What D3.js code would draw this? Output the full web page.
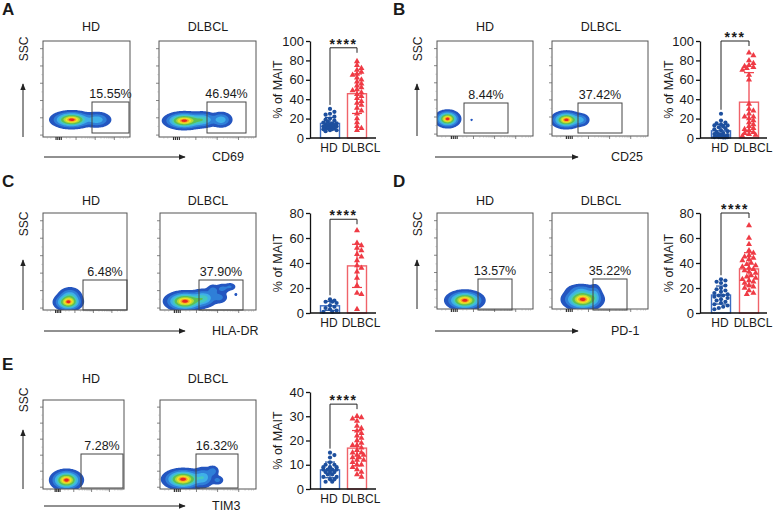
<!DOCTYPE html>
<html>
<head>
<meta charset="utf-8">
<script src="https://cdn.jsdelivr.net/npm/d3@7"></script>
<style>
  body { margin: 0; background: #fff; }
  text { font-family: "Liberation Sans", Arial, sans-serif; fill: #1a1a1a; }
</style>
</head>
<body>
<div id="viz"></div>
<script>
const w = 776;
const h = 513;

const groups = ['HD', 'DLBCL'];
const letters = ['A', 'B', 'C', 'D', 'E'];
const markers = ['CD69', 'CD25', 'HLA-DR', 'PD-1', 'TIM3'];
const gateLabels = [['15.55%', '46.94%'], ['8.44%', '37.42%'], ['6.48%', '37.90%'], ['13.57%', '35.22%'], ['7.28%', '16.32%']];
const stars = ['****', '***', '****', '****', '****'];
const yMax = [100, 100, 80, 80, 40];
const yStep = [20, 20, 20, 20, 10];
const bracketAt = [93, 100, 75, 80, 35];

// % of MAIT, one value per donor
const hdCD69 = [30, 27, 25, 24, 22, 20, 19, 18, 17, 16, 15, 15, 14, 14, 13, 13, 12, 12, 12, 11, 11, 10, 10, 9, 9, 8, 8, 7];
const dlbclCD69 = [79, 75, 72, 70, 68, 66, 65, 62, 60, 58, 56, 54, 52, 50, 49, 47, 45, 43, 41, 38, 36, 34, 31, 28, 25, 20, 16, 12, 10, 8];
const hdCD25 = [25, 18, 16, 15, 14, 13, 13, 12, 11, 10, 9, 8, 7, 6, 5, 4, 4, 3, 3, 2, 2, 2, 1, 1, 1, 1, 0.5, 0.5];
const dlbclCD25 = [88, 85, 80, 77, 75, 74, 73, 72, 70, 65, 60, 35, 30, 28, 25, 22, 22, 20, 18, 16, 14, 12, 10, 9, 8, 6, 5, 4, 3, 2];
const hdHLADR = [11, 10, 9, 9, 8, 6, 5, 4, 3, 2, 1, 1];
const dlbclHLADR = [66, 56, 54, 52, 50, 47, 45, 42, 38, 36, 33, 28, 22, 16, 15, 3];
const hdPD1 = [27, 26, 25, 24, 22, 20, 19, 18, 17, 16, 15, 14, 14, 13, 12, 11, 10, 9, 8, 7, 6, 5, 4, 3];
const dlbclPD1 = [70, 60, 55, 50, 48, 46, 45, 44, 43, 42, 40, 39, 38, 37, 36, 35, 34, 33, 32, 30, 29, 28, 27, 26, 25, 24, 22, 21, 20, 18, 16, 15];
const hdTIM3 = [15, 14, 13, 11, 10, 10, 9, 9, 9, 8, 8, 8, 8, 7, 7, 7, 6, 6, 5, 5, 4, 4, 3, 3];
const dlbclTIM3 = [30, 29.5, 29, 28, 26, 25, 24, 23, 22, 21, 20, 19, 18, 18, 17, 16, 15, 15, 14, 14, 13, 13, 12, 12, 11, 10, 10, 9, 8, 7, 6, 5];

const values = [[hdCD69, dlbclCD69], [hdCD25, dlbclCD25], [hdHLADR, dlbclHLADR], [hdPD1, dlbclPD1], [hdTIM3, dlbclTIM3]];

// ---- layout (pixels) ----
const cols = [
  { letterX: 2, titleX: [91, 208], yArrowX: 23, sscX: 24, xArrow: [44, 185], markerX: 212, barX: [310, 376], barCx: [330, 357], labelDx: [-1, 4], yTitleX: 278 },
  { letterX: 393, titleX: [485, 601], yArrowX: 417, sscX: 418, xArrow: [435, 578], markerX: 611, barX: [700, 767], barCx: [721, 749], labelDx: [-1, 4], yTitleX: 669 }
];
const rows = [
  { letterY: 15, titleY: 31, arrowTip: 84, sscY: 49, xArrowY: 157, barY: [41, 138] },
  { letterY: 187, titleY: 205, arrowTip: 260, sscY: 224, xArrowY: 331, barY: [213, 313] },
  { letterY: 370, titleY: 383, arrowTip: 430, sscY: 400, xArrowY: 506, barY: [392, 489] }
];
const boxes = [
  [[43, 41, 130, 137], [159, 41, 256, 137]],
  [[437, 41, 533, 136], [552, 41, 648, 136]],
  [[43, 213, 127, 310], [160, 213, 256, 310]],
  [[437, 213, 533, 309], [552, 213, 648, 309]],
  [[43, 400, 124, 489], [160, 400, 256, 489]]
];
const gates = [
  [[92, 102, 129, 133], [207, 102, 246, 133]],
  [[464, 103, 508, 133], [578, 103, 622, 133]],
  [[83, 280, 127, 310], [199, 280, 243, 310]],
  [[478, 279, 512, 310], [593, 279, 627, 310]],
  [[81, 454, 123, 488], [196, 454, 238, 488]]
];
// density shape of each flow plot: [u, v, sdU, sdV, weight] in box fractions
const blobs = [
  [[[0.33, 0.18, 0.09, 0.035, 1], [0.62, 0.18, 0.07, 0.035, 0.25]],
   [[0.26, 0.17, 0.08, 0.035, 1], [0.45, 0.18, 0.06, 0.035, 0.35], [0.64, 0.18, 0.05, 0.035, 0.25]]],
  [[[0.11, 0.18, 0.05, 0.035, 1], [0.36, 0.17, 0.008, 0.008, 0.05]],
   [[0.15, 0.17, 0.06, 0.035, 1], [0.3, 0.17, 0.04, 0.03, 0.2]]],
  [[[0.30, 0.08, 0.065, 0.035, 1], [0.32, 0.14, 0.06, 0.04, 0.3]],
   [[0.26, 0.09, 0.08, 0.04, 1], [0.45, 0.12, 0.06, 0.04, 0.35], [0.55, 0.2, 0.03, 0.03, 0.12], [0.65, 0.22, 0.035, 0.025, 0.1],
    [0.73, 0.24, 0.03, 0.02, 0.08], [0.79, 0.16, 0.01, 0.01, 0.05], [0.62, 0.13, 0.04, 0.03, 0.1]]],
  [[[0.29, 0.09, 0.075, 0.04, 1]],
   [[0.32, 0.1, 0.08, 0.045, 1], [0.3, 0.2, 0.07, 0.03, 0.12], [0.45, 0.15, 0.03, 0.05, 0.15]]],
  [[[0.29, 0.1, 0.075, 0.045, 1]],
   [[0.24, 0.11, 0.08, 0.045, 1], [0.45, 0.13, 0.05, 0.05, 0.25], [0.55, 0.2, 0.03, 0.03, 0.12], [0.6, 0.1, 0.03, 0.025, 0.1]]]
];
const levels = [0.015, 0.07, 0.16, 0.27, 0.4, 0.58, 0.72, 0.84, 0.93];
const levelColors = ['#2456c0', '#2f7fd8', '#3fb0e8', '#45c8c0', '#5cc055', '#b5d935', '#f2e424', '#f5a021', '#e5261f'];

const pointColor = ['#1d4f9e', '#ef3b45'];
const barColor = ['#3b6cc0', '#f0636a'];
const barW = 19;

const svg = d3.select('#viz').append('svg')
  .attr('width', w)
  .attr('height', h);

const defs = svg.append('defs');
defs.append('marker')
  .attr('id', 'arrow')
  .attr('viewBox', '0 0 10 10')
  .attr('refX', 9).attr('refY', 5)
  .attr('markerWidth', 7).attr('markerHeight', 7)
  .attr('orient', 'auto')
  .append('path')
  .attr('d', 'M0,1L10,5L0,9Z')
  .attr('fill', '#222');

// simple beeswarm so dots don't sit on top of each other
function swarm(vals, y, r, maxOff) {
  const placed = [];
  const pts = vals.map(v => ({ v, y: y(v) })).sort((a, b) => b.v - a.v);
  const step = r * 1.05;
  pts.forEach(p => {
    let best = 0, bestD = -1;
    for (let k = 0; k * step <= maxOff; k++) {
      for (const s of (k ? [1, -1] : [1])) {
        const dx = s * k * step;
        let dmin = Infinity;
        placed.forEach(q => { dmin = Math.min(dmin, Math.hypot(q.dx - dx, q.y - p.y)); });
        if (dmin >= 2 * r * 0.9) { if (bestD < Infinity) { best = dx; bestD = Infinity; } }
        else if (bestD < Infinity && dmin > bestD) { best = dx; bestD = dmin; }
      }
      if (bestD === Infinity) break;
    }
    p.dx = best;
    placed.push(p);
  });
  return pts;
}

function flowPlot(g, box, gate, blob, label, id) {
  const [x0, y0, x1, y1] = box;
  const n = Math.round(x1 - x0), m = Math.round(y1 - y0);
  const grid = new Array(n * m);
  for (let j = 0; j < m; j++) {
    for (let i = 0; i < n; i++) {
      const u = (i + 0.5) / n, v = 1 - (j + 0.5) / m;
      let s = 0;
      blob.forEach(([cu, cv, su, sv, wt]) => {
        s += wt * Math.exp(-((u - cu) ** 2) / (2 * su * su) - ((v - cv) ** 2) / (2 * sv * sv));
      });
      grid[j * n + i] = s;
    }
  }
  const mx = d3.max(grid);
  const dens = grid.map(d => d / mx);

  defs.append('clipPath').attr('id', id)
    .append('rect').attr('width', n).attr('height', m);

  const pg = g.append('g').attr('transform', `translate(${x0},${y0})`);
  pg.append('g').attr('clip-path', `url(#${id})`)
    .selectAll('path')
    .data(d3.contours().size([n, m]).thresholds(levels)(dens))
    .join('path')
    .attr('d', d3.geoPath())
    .attr('fill', (d, i) => levelColors[i]);

  pg.append('rect')
    .attr('width', n).attr('height', m)
    .attr('fill', 'none').attr('stroke', '#555').attr('stroke-width', 1);

  // left ticks
  d3.range(6).forEach(k => {
    const ty = m - (0.02 + k * 0.18) * m;
    pg.append('line').attr('x1', -3).attr('x2', 0).attr('y1', ty).attr('y2', ty)
      .attr('stroke', '#666').attr('stroke-width', 0.8);
    if (k < 5) {
      pg.append('line').attr('x1', -1.5).attr('x2', 0).attr('y1', ty - 0.09 * m).attr('y2', ty - 0.09 * m)
        .attr('stroke', '#999').attr('stroke-width', 0.6);
    }
  });
  // bottom ticks: dense near zero, then log decades
  const bt = [];
  [0.15, 0.17, 0.19, 0.21].forEach(u => bt.push([u, 3, 1.2, '#333']));
  [0.38, 0.6, 0.82].forEach(u0 => {
    bt.push([u0, 3, 0.8, '#666']);
    [2, 3, 4, 5, 6, 7, 8, 9].forEach(k => {
      const u = u0 + Math.log10(k) * 0.22;
      if (u < 0.99) bt.push([u, 1.5, 0.6, '#999']);
    });
  });
  [0.05, 0.09, 0.27, 0.31].forEach(u => bt.push([u, 1.5, 0.6, '#999']));
  bt.forEach(([u, len, sw, c]) => {
    pg.append('line').attr('x1', u * n).attr('x2', u * n).attr('y1', m).attr('y2', m + len)
      .attr('stroke', c).attr('stroke-width', sw);
  });

  g.append('rect')
    .attr('x', gate[0]).attr('y', gate[1])
    .attr('width', gate[2] - gate[0]).attr('height', gate[3] - gate[1])
    .attr('fill', 'none').attr('stroke', '#444').attr('stroke-width', 1);

  g.append('text')
    .attr('x', (gate[0] + gate[2]) / 2).attr('y', gate[1] - 4)
    .attr('text-anchor', 'middle')
    .style('font-size', '12.5px')
    .text(label);
}

letters.forEach((L, p) => {
  const C = cols[p % 2], R = rows[Math.floor(p / 2)];
  const g = svg.append('g');

  g.append('text')
    .attr('x', C.letterX).attr('y', R.letterY)
    .style('font-size', '17px').style('font-weight', 'bold')
    .text(L);

  groups.forEach((grp, k) => {
    g.append('text')
      .attr('x', C.titleX[k]).attr('y', R.titleY)
      .attr('text-anchor', 'middle')
      .style('font-size', '12.5px')
      .text(grp);
    flowPlot(g, boxes[p][k], gates[p][k], blobs[p][k], gateLabels[p][k], `clip${p}${k}`);
  });

  // SSC arrow + label
  const by = boxes[p][0][3];
  g.append('line')
    .attr('x1', C.yArrowX).attr('x2', C.yArrowX)
    .attr('y1', by).attr('y2', R.arrowTip)
    .attr('stroke', '#222').attr('stroke-width', 1)
    .attr('marker-end', 'url(#arrow)');
  g.append('text')
    .attr('transform', `translate(${C.sscX},${R.sscY}) rotate(-90)`)
    .attr('text-anchor', 'middle').attr('dominant-baseline', 'central')
    .style('font-size', '12px')
    .text('SSC');

  // marker arrow
  g.append('line')
    .attr('x1', C.xArrow[0]).attr('x2', C.xArrow[1])
    .attr('y1', R.xArrowY).attr('y2', R.xArrowY)
    .attr('stroke', '#222').attr('stroke-width', 1)
    .attr('marker-end', 'url(#arrow)');
  g.append('text')
    .attr('x', C.markerX).attr('y', R.xArrowY)
    .attr('dominant-baseline', 'central')
    .style('font-size', '12.5px')
    .text(markers[p]);

  // ---- bar chart ----
  const y = d3.scaleLinear().domain([0, yMax[p]]).range([R.barY[1], R.barY[0]]);
  const x = d3.scaleOrdinal().domain(groups).range(C.barCx);

  groups.forEach((grp, k) => {
    const vals = values[p][k];
    const mean = d3.mean(vals), sd = d3.deviation(vals);
    const cx = x(grp);

    g.append('rect')
      .attr('x', cx - barW / 2).attr('y', y(mean))
      .attr('width', barW).attr('height', y(0) - y(mean))
      .attr('fill', '#fff').attr('stroke', barColor[k]).attr('stroke-width', 1.4);

    const r = 2.1;
    const pts = swarm(vals, y, r, barW / 2 - 1.5);
    if (k === 0) {
      g.selectAll(null).data(pts).join('circle')
        .attr('cx', d => cx + d.dx).attr('cy', d => d.y)
        .attr('r', r).attr('fill', pointColor[k]);
    } else {
      g.selectAll(null).data(pts).join('path')
        .attr('d', d3.symbol(d3.symbolTriangle, 16))
        .attr('transform', d => `translate(${cx + d.dx},${d.y})`)
        .attr('fill', pointColor[k]);
    }

    const lo = y(Math.max(0, mean - sd)), hi = y(mean + sd);
    g.append('line').attr('x1', cx).attr('x2', cx).attr('y1', lo).attr('y2', hi)
      .attr('stroke', pointColor[k]).attr('stroke-width', 1.2);
    [lo, hi].forEach(yy => {
      g.append('line').attr('x1', cx - 5).attr('x2', cx + 5).attr('y1', yy).attr('y2', yy)
        .attr('stroke', pointColor[k]).attr('stroke-width', 1.2);
    });

    g.append('text')
      .attr('x', cx + C.labelDx[k]).attr('y', R.barY[1] + 14)
      .attr('text-anchor', 'middle')
      .style('font-size', '12px')
      .text(grp);
  });

  const yAxis = g.append('g')
    .attr('transform', `translate(${C.barX[0]},0)`)
    .call(d3.axisLeft(y).tickValues(d3.range(0, yMax[p] + 1, yStep[p])).tickSize(4).tickSizeOuter(0).tickPadding(2));
  yAxis.selectAll('text').style('font-size', '13px').style('font-family', '"Liberation Sans", Arial, sans-serif');
  yAxis.selectAll('line, path').attr('stroke', '#111').attr('stroke-width', 1.3);

  g.append('line')
    .attr('x1', C.barX[0]).attr('x2', C.barX[1])
    .attr('y1', y(0)).attr('y2', y(0))
    .attr('stroke', '#111').attr('stroke-width', 1.3);

  g.append('text')
    .attr('transform', `translate(${C.yTitleX},${(R.barY[0] + R.barY[1]) / 2}) rotate(-90)`)
    .attr('text-anchor', 'middle').attr('dominant-baseline', 'central')
    .style('font-size', '12.5px')
    .text('% of MAIT');

  // significance bracket
  const yb = y(bracketAt[p]);
  const x0 = x(groups[0]), x1 = x(groups[1]);
  const leftEnd = y(d3.max(values[p][0])) - 4;
  g.append('path')
    .attr('d', `M${x0},${leftEnd}V${yb}H${x1}V${yb + 5}`)
    .attr('fill', 'none').attr('stroke', '#222').attr('stroke-width', 1);
  g.append('text')
    .attr('x', (x0 + x1) / 2).attr('y', yb + 1)
    .attr('text-anchor', 'middle')
    .style('font-size', '14px').style('font-weight', 'bold').style('letter-spacing', '1.5px')
    .text(stars[p]);
});
</script>
</body>
</html>
